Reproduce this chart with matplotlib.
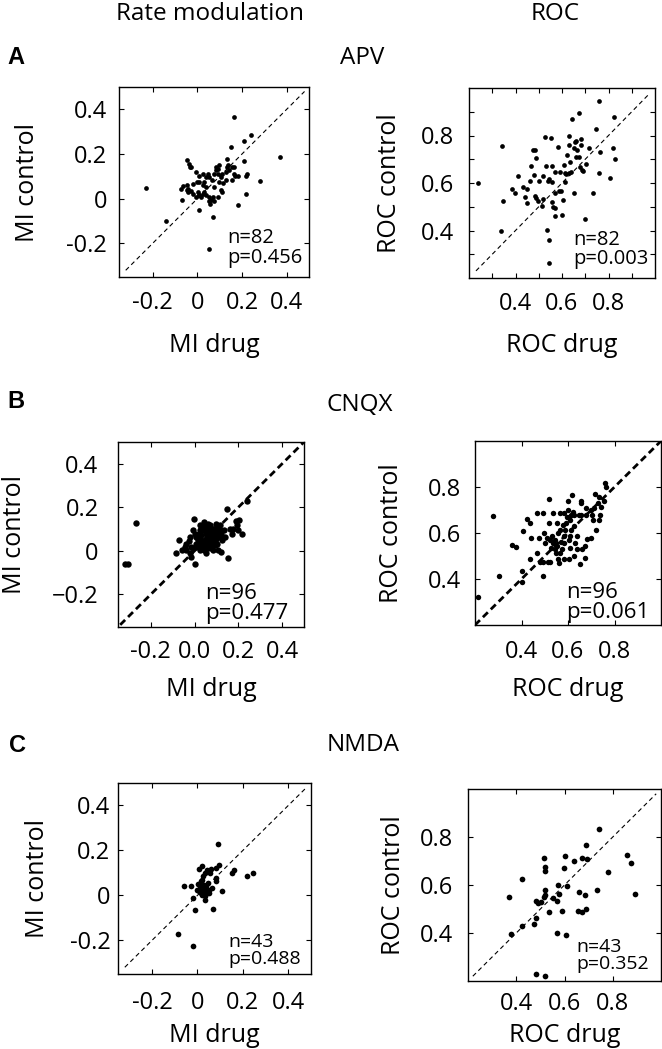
import numpy as np
import matplotlib
matplotlib.use("Agg")
import matplotlib.pyplot as plt

plt.rcParams['font.family'] = ['Open Sans', 'DejaVu Sans']

# ---- data ----
# A: APV, rate modulation (MI drug, MI control)
apv_mi_drug = [-0.231, -0.140, -0.067, -0.073, -0.063, -0.048, -0.041, -0.041, -0.044, -0.036,
               -0.034, -0.019, -0.004, -0.001, 0.003, 0.010, 0.018, 0.025, 0.032, 0.039,
               0.010, 0.007, 0.047, 0.054, 0.051, 0.057, 0.061, 0.064, 0.069, 0.054,
               0.076, 0.076, 0.083, 0.086, 0.091, 0.098, 0.091, 0.098, 0.105, 0.112,
               0.115, 0.127, 0.127, 0.134, 0.139, 0.142, 0.134, 0.164, 0.164, 0.156,
               0.149, 0.164, 0.182, 0.171, 0.181, 0.207, 0.207, 0.218, 0.222, 0.218,
               0.241, 0.283, 0.371, 0.010, 0.028, 0.039, 0.032, 0.069, 0.076, 0.091,
               -0.004, -0.019, -0.026, -0.048, 0.039, 0.028, 0.010, 0.105, 0.156, 0.112,
               -0.026, 0.054]
apv_mi_ctrl = [0.048, -0.101, -0.007, 0.045, 0.055, 0.060, 0.030, 0.045, 0.175, 0.157,
               0.142, 0.067, 0.119, 0.075, 0.030, 0.018, 0.007, 0.022, 0.030, 0.018,
               -0.052, 0.015, 0.112, 0.097, -0.012, -0.022, -0.007, 0.082, -0.082, -0.224,
               0.052, 0.112, 0.127, 0.142, 0.134, 0.149, 0.112, 0.075, 0.037, 0.030,
               0.070, 0.082, 0.119, 0.142, 0.149, 0.127, 0.179, 0.142, 0.112, 0.082,
               0.231, 0.366, -0.030, 0.104, 0.104, 0.258, 0.167, 0.101, 0.109, 0.022,
               0.285, 0.078, 0.187, 0.075, 0.060, 0.052, 0.075, 0.007, -0.012, 0.007,
               0.007, 0.022, 0.033, 0.037, 0.097, 0.112, 0.104, 0.097, 0.142, 0.112,
               0.142, 0.007]

# A: APV, ROC
apv_roc_drug = [0.237, 0.341, 0.348, 0.339, 0.397, 0.410, 0.432, 0.448, 0.441, 0.448,
                0.466, 0.476, 0.486, 0.490, 0.480, 0.483, 0.490, 0.497, 0.503, 0.514,
                0.517, 0.528, 0.535, 0.545, 0.542, 0.538, 0.545, 0.552, 0.556, 0.559,
                0.559, 0.563, 0.568, 0.570, 0.572, 0.570, 0.583, 0.586, 0.597, 0.600,
                0.604, 0.607, 0.611, 0.614, 0.617, 0.623, 0.628, 0.630, 0.634, 0.639,
                0.641, 0.652, 0.652, 0.655, 0.662, 0.666, 0.672, 0.672, 0.676, 0.683,
                0.683, 0.686, 0.690, 0.703, 0.701, 0.717, 0.734, 0.745, 0.759, 0.761,
                0.763, 0.807, 0.821, 0.823, 0.828, 0.531, 0.593, 0.628, 0.462, 0.386,
                0.517, 0.662]
apv_roc_ctrl = [0.600, 0.754, 0.525, 0.399, 0.556, 0.628, 0.584, 0.575, 0.542, 0.515,
                0.673, 0.740, 0.740, 0.706, 0.635, 0.546, 0.536, 0.525, 0.610, 0.504,
                0.631, 0.794, 0.401, 0.360, 0.264, 0.610, 0.617, 0.789, 0.673, 0.603,
                0.518, 0.501, 0.494, 0.461, 0.556, 0.645, 0.751, 0.565, 0.568, 0.464,
                0.528, 0.676, 0.642, 0.603, 0.638, 0.716, 0.798, 0.641, 0.688, 0.645,
                0.871, 0.560, 0.747, 0.772, 0.775, 0.740, 0.893, 0.709, 0.666, 0.787,
                0.758, 0.656, 0.652, 0.681, 0.450, 0.747, 0.556, 0.826, 0.642, 0.945,
                0.730, 0.621, 0.747, 0.876, 0.699, 0.673, 0.645, 0.758, 0.610, 0.575,
                0.532, 0.709]

# B: CNQX, rate modulation
cnqx_mi_drug = [-0.316, -0.305, -0.270, -0.084, -0.072, -0.046, -0.038, -0.026, -0.023, -0.015,
                -0.005, -0.003, 0.003, 0.015, 0.023, 0.023, 0.031, 0.035, 0.038, 0.041,
                0.046, 0.050, 0.053, 0.056, 0.061, 0.066, 0.069, 0.073, 0.076, 0.081,
                0.084, 0.087, 0.092, 0.096, 0.099, 0.102, 0.107, 0.115, 0.118, 0.122,
                0.127, 0.133, 0.150, 0.153, 0.176, 0.188, 0.194, 0.203, 0.218, 0.240,
                0.008, 0.020, 0.031, 0.053, 0.061, 0.072, 0.038, 0.023, 0.008, 0.005,
                0.092, 0.099, 0.084, 0.046, 0.061, 0.076, 0.115, 0.137, -0.038, -0.057,
                -0.015, 0.023, 0.053, 0.041, 0.069, 0.107, 0.160, 0.171, -0.008, 0.027,
                0.089, 0.050, 0.066, 0.035, 0.014, 0.107, 0.122, 0.084, -0.023, 0.000,
                0.041, 0.096, 0.198, 0.061, 0.076, 0.023]
cnqx_mi_ctrl = [-0.062, -0.062, 0.129, -0.012, 0.048, 0.018, 0.003, 0.045, -0.012, -0.027,
                0.097, 0.147, -0.062, 0.033, 0.048, 0.003, 0.071, 0.018, 0.041, 0.094,
                0.026, 0.056, 0.079, 0.018, 0.033, 0.094, 0.048, 0.067, 0.011, 0.033,
                0.102, 0.056, 0.079, 0.124, 0.094, 0.033, 0.003, 0.064, 0.094, -0.005,
                0.048, 0.097, 0.192, -0.032, 0.098, 0.136, 0.117, 0.142, 0.079, 0.227,
                0.064, 0.079, 0.102, 0.109, 0.124, 0.117, 0.109, 0.026, 0.018, 0.033,
                0.026, 0.056, 0.076, 0.048, 0.011, 0.086, 0.117, 0.064, 0.033, 0.003,
                0.018, 0.117, -0.012, 0.003, 0.018, 0.102, 0.102, 0.079, 0.011, 0.061,
                0.098, 0.086, 0.071, 0.033, 0.048, 0.071, 0.079, 0.003, 0.064, 0.076,
                0.132, 0.033, 0.094, 0.056, 0.045, 0.094]

# B: CNQX, ROC
cnqx_roc_drug = [0.215, 0.276, 0.305, 0.360, 0.375, 0.404, 0.404, 0.407, 0.424, 0.436,
                 0.443, 0.465, 0.479, 0.476, 0.491, 0.497, 0.501, 0.508, 0.516, 0.520,
                 0.526, 0.530, 0.535, 0.537, 0.542, 0.545, 0.549, 0.552, 0.556, 0.559,
                 0.564, 0.567, 0.569, 0.574, 0.578, 0.581, 0.584, 0.588, 0.593, 0.596,
                 0.599, 0.600, 0.603, 0.607, 0.610, 0.613, 0.617, 0.620, 0.625, 0.632,
                 0.639, 0.651, 0.654, 0.657, 0.657, 0.661, 0.671, 0.676, 0.683, 0.697,
                 0.700, 0.705, 0.709, 0.712, 0.716, 0.721, 0.727, 0.734, 0.738, 0.741,
                 0.753, 0.759, 0.763, 0.676, 0.647, 0.625, 0.494, 0.468, 0.436, 0.491,
                 0.523, 0.561, 0.610, 0.625, 0.639, 0.671, 0.520, 0.552, 0.581, 0.603,
                 0.613, 0.581, 0.523, 0.567, 0.603, 0.734]
cnqx_roc_ctrl = [0.321, 0.674, 0.414, 0.550, 0.540, 0.436, 0.386, 0.607, 0.660, 0.486,
                 0.579, 0.511, 0.474, 0.579, 0.411, 0.600, 0.557, 0.579, 0.476, 0.750,
                 0.536, 0.586, 0.689, 0.557, 0.529, 0.571, 0.511, 0.543, 0.600, 0.486,
                 0.689, 0.514, 0.560, 0.531, 0.636, 0.689, 0.586, 0.614, 0.643, 0.671,
                 0.700, 0.740, 0.571, 0.536, 0.657, 0.614, 0.764, 0.693, 0.500, 0.557,
                 0.529, 0.464, 0.740, 0.729, 0.679, 0.529, 0.493, 0.679, 0.574, 0.579,
                 0.700, 0.679, 0.657, 0.707, 0.771, 0.611, 0.729, 0.757, 0.679, 0.714,
                 0.740, 0.817, 0.800, 0.707, 0.679, 0.679, 0.686, 0.689, 0.643, 0.474,
                 0.474, 0.471, 0.589, 0.629, 0.586, 0.543, 0.643, 0.643, 0.486, 0.486,
                 0.679, 0.557, 0.571, 0.614, 0.671, 0.657]

# C: NMDA, rate modulation
nmda_mi_drug = [-0.085, -0.019, -0.060, -0.029, -0.019, -0.010, -0.004, 0.005, 0.009, 0.014,
                0.020, 0.020, 0.024, 0.027, 0.031, 0.035, 0.039, 0.042, 0.042, 0.050,
                0.057, 0.061, 0.070, 0.080, 0.083, 0.089, 0.095, 0.108, 0.154, 0.160,
                0.220, 0.244, 0.014, 0.024, 0.001, 0.046, 0.035, 0.020, 0.052, 0.005,
                0.033, 0.083, 0.065]
nmda_mi_ctrl = [-0.172, -0.227, 0.040, 0.040, -0.012, -0.067, 0.025, 0.117, 0.040, 0.010,
                0.129, 0.070, 0.025, 0.047, -0.004, 0.018, 0.040, 0.114, 0.010, 0.025,
                0.099, 0.117, -0.061, 0.062, 0.077, 0.230, 0.136, 0.018, 0.099, 0.111,
                0.087, 0.099, 0.062, 0.084, 0.052, 0.055, 0.099, 0.003, 0.010, 0.018,
                -0.019, 0.121, 0.033]

# C: NMDA, ROC
nmda_roc_drug = [0.369, 0.378, 0.425, 0.425, 0.474, 0.483, 0.483, 0.492, 0.480, 0.514,
                 0.518, 0.521, 0.518, 0.521, 0.514, 0.518, 0.535, 0.553, 0.567, 0.574,
                 0.567, 0.588, 0.597, 0.602, 0.605, 0.611, 0.640, 0.654, 0.659, 0.672,
                 0.672, 0.684, 0.689, 0.693, 0.689, 0.733, 0.745, 0.780, 0.859, 0.876,
                 0.894, 0.579, 0.501]
nmda_roc_ctrl = [0.550, 0.396, 0.431, 0.624, 0.439, 0.461, 0.533, 0.524, 0.229, 0.714,
                 0.676, 0.657, 0.579, 0.557, 0.550, 0.219, 0.489, 0.547, 0.533, 0.600,
                 0.400, 0.493, 0.671, 0.719, 0.393, 0.596, 0.700, 0.490, 0.571, 0.714,
                 0.486, 0.557, 0.767, 0.707, 0.500, 0.579, 0.833, 0.653, 0.724, 0.693,
                 0.561, 0.564, 0.529]

# statistics printed in each panel
stats_apv_mi = "n=82\np=0.456"
stats_apv_roc = "n=82\np=0.003"
stats_cnqx_mi = "n=96\np=0.477"
stats_cnqx_roc = "n=96\np=0.061"
stats_nmda_mi = "n=43\np=0.488"
stats_nmda_roc = "n=43\np=0.352"

# axis limits, unity line ends and tick labels
mi_lim = [-0.35, 0.5]
roc_lim = [0.2, 1.0]
mi_ticks = [-0.2, 0, 0.2, 0.4]
mi_labels = ['-0.2', '0', '0.2', '0.4']
mi_labels_b_x = ['-0.2', '0.0', '0.2', '0.4']
mi_labels_b_y = ['\u22120.2', '0', '0.2', '0.4']
roc_ticks = [0.4, 0.6, 0.8]
roc_labels = ['0.4', '0.6', '0.8']
roc_ticks_fine = [0.3, 0.4, 0.5, 0.6, 0.7, 0.8, 0.9]
roc_labels_fine = ['', '0.4', '', '0.6', '', '0.8', '']

W, H = 662, 1049
fig = plt.figure(figsize=(W / 100, H / 100), dpi=100)


def add_ax(box):
    # box = (left, top, right, bottom) in pixels from the top-left corner
    x0, y0, x1, y1 = box
    return fig.add_axes([x0 / W, 1 - y1 / H, (x1 - x0) / W, (y1 - y0) / H])


def ftext(x, y, s, **kw):
    fig.text(x / W, 1 - y / H, s, ha='center', va='center', **kw)


def panel(box, x, y, lim, diag, xticks, yticks, xlabels, ylabels, xl, yl, stats,
          ms, dlw, dashes, sfs, sx, sy, xl_y, yl_x, xpad, ypad):
    ax = add_ax(box)
    x0, y0, x1, y1 = box
    ax.plot(x, y, 'o', color='k', ms=ms, mec='none')
    ax.plot(diag, diag, color='k', lw=dlw, dashes=dashes)
    ax.set_xlim(lim)
    ax.set_ylim(lim)
    ax.set_xticks(xticks)
    ax.set_xticklabels(xlabels)
    ax.set_yticks(yticks)
    ax.set_yticklabels(ylabels)
    ax.tick_params(direction='in', top=True, right=True, length=3.5, width=0.8,
                   labelsize=17)
    ax.tick_params(axis='x', pad=xpad)
    ax.tick_params(axis='y', pad=ypad)
    for sp in ax.spines.values():
        sp.set_linewidth(1.0)
    ax.set_xlabel(xl, fontsize=18)
    ax.set_ylabel(yl, fontsize=18)
    ax.xaxis.set_label_coords(0.5, -(xl_y - y1) / (y1 - y0))
    ax.xaxis.label.set_va('center')
    ax.yaxis.set_label_coords(-(x0 - yl_x) / (x1 - x0), 0.5)
    ax.yaxis.label.set_va('center')
    ax.text(sx, sy, stats, transform=ax.transAxes, fontsize=sfs,
            ha='left', va='bottom', linespacing=0.95)
    return ax


# column headers and panel letters
ftext(210, 14, 'Rate modulation', fontsize=17.5)
ftext(555, 14, 'ROC', fontsize=17.5)
ftext(16, 57, 'A', fontsize=17, fontweight='bold', family='Liberation Sans')
ftext(362, 58, 'APV', fontsize=17.5)
ftext(16, 402, 'B', fontsize=17, fontweight='bold', family='Liberation Sans')
ftext(360, 405, 'CNQX', fontsize=17.5)
ftext(17, 745, 'C', fontsize=17, fontweight='bold', family='Liberation Sans')
ftext(363, 745, 'NMDA', fontsize=17.5)

# A: APV
panel((119, 87, 309, 277), apv_mi_drug, apv_mi_ctrl, mi_lim, [-0.32, 0.48],
      mi_ticks, mi_ticks, mi_labels, mi_labels, 'MI drug', 'MI control', stats_apv_mi,
      3.4, 0.8, (4, 3), 14.5, 0.57, 0.05, 345, 27, 10, 8.5)

panel((469, 88, 655, 278), apv_roc_drug, apv_roc_ctrl, roc_lim, [0.23, 0.97],
      roc_ticks_fine, roc_ticks_fine, roc_labels_fine, roc_labels_fine, 'ROC drug',
      'ROC control', stats_apv_roc, 3.4, 0.8, (4, 3), 14.5, 0.56, 0.045, 345, 390, 10, 11)

# B: CNQX
panel((118, 442, 304, 627), cnqx_mi_drug, cnqx_mi_ctrl, mi_lim, [-0.34, 0.5],
      mi_ticks, mi_ticks, mi_labels_b_x, mi_labels_b_y, 'MI drug', 'MI control',
      stats_cnqx_mi, 4.6, 2.0, (2.5, 1.5), 16, 0.47, 0.015, 690, 14, 9.5, 14)

panel((475, 441, 661, 625), cnqx_roc_drug, cnqx_roc_ctrl, roc_lim, [0.2, 1.0],
      roc_ticks, roc_ticks, roc_labels, roc_labels, 'ROC drug', 'ROC control',
      stats_cnqx_roc, 3.9, 2.0, (2.5, 1.5), 16, 0.49, 0.01, 690, 391, 11, 10)

# C: NMDA
panel((118, 783, 311, 974), nmda_mi_drug, nmda_mi_ctrl, mi_lim, [-0.32, 0.48],
      mi_ticks, mi_ticks, mi_labels, mi_labels, 'MI drug', 'MI control', stats_nmda_mi,
      4.1, 0.8, (4, 3), 14, 0.57, 0.03, 1036, 38, 12, 5.5)

panel((468, 789, 661, 981), nmda_roc_drug, nmda_roc_ctrl, roc_lim, [0.22, 0.98],
      roc_ticks, roc_ticks, roc_labels, roc_labels, 'ROC drug', 'ROC control',
      stats_nmda_roc, 4.1, 0.8, (4, 3), 14, 0.56, 0.04, 1036, 394, 8, 11)

fig.savefig('out.png', dpi=100)
